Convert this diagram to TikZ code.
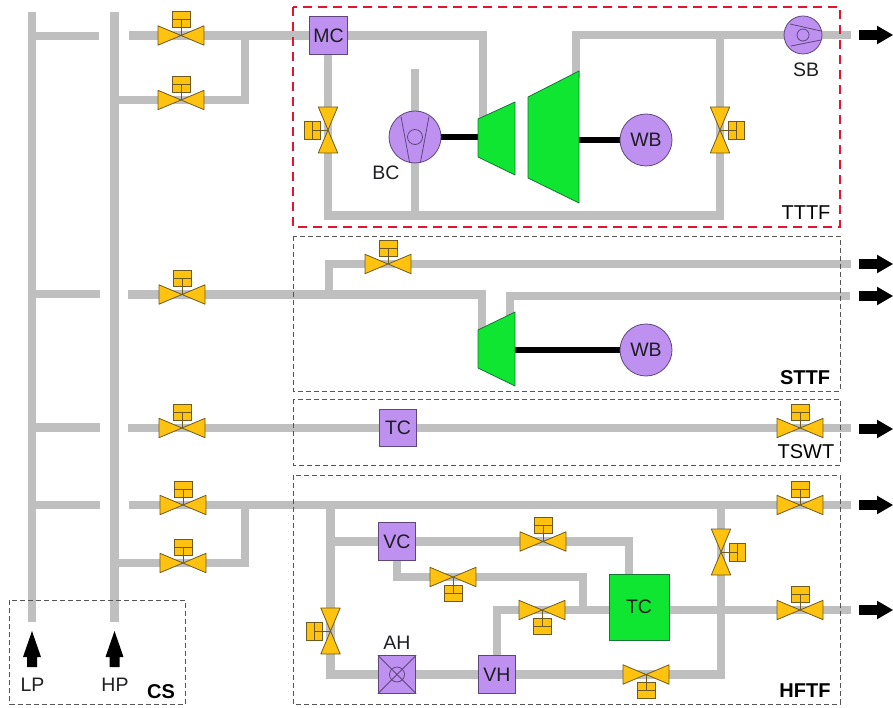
\documentclass[tikz,border=0pt]{standalone}
\usepackage{fontspec}
\setmainfont{Liberation Sans}
\pgfdeclarelayer{pipes}
\pgfdeclarelayer{frames}
\pgfsetlayers{pipes,frames,main}
\definecolor{pipegray}{RGB}{191,191,191}
\definecolor{valvey}{RGB}{255,194,14}
\definecolor{valveb}{RGB}{110,90,30}
\definecolor{purp}{RGB}{190,145,240}
\definecolor{purpb}{RGB}{95,70,125}
\definecolor{turb}{RGB}{15,230,50}
\definecolor{turbb}{RGB}{20,120,50}
\definecolor{framered}{RGB}{225,20,50}
\definecolor{framegray}{RGB}{85,85,85}
\definecolor{inktext}{RGB}{30,30,35}
\tikzset{
  pipe/.style={draw=pipegray,line width=8.2pt,line join=miter},
  shaft/.style={draw=black,line width=6pt},
  sqbox/.style={draw=purpb,fill=purp,line width=0.8pt,minimum size=37.5pt,inner sep=0pt,text=inktext,font=\fontsize{19.5}{20}\selectfont},
  wheel/.style={circle,draw=purpb,fill=purp,line width=0.8pt,inner sep=0pt,text=inktext,font=\fontsize{19.5}{20}\selectfont},
  hot/.style={draw=turbb,fill=turb,line width=0.8pt,line join=round},
  lab/.style={inner sep=0pt,text=inktext,font=\fontsize{19.5}{20}\selectfont},
  blab/.style={inner sep=0pt,text=black,font=\fontsize{20}{20}\selectfont\bfseries},
  zone/.style={draw=framegray,line width=0.9pt,dash pattern=on 5pt off 3pt},
  redzone/.style={draw=framered,line width=1.7pt,dash pattern=on 9pt off 6pt},
  inner/.style={draw=purpb,line width=0.8pt},
  valve/.pic={
    \draw[valveb,line width=0.8pt] (0,0) -- (0,-16);
    \draw[draw=valveb,fill=valvey,line width=0.8pt,line join=round] (-23,-9.7) -- (0,0) -- (-23,9.7) -- cycle;
    \draw[draw=valveb,fill=valvey,line width=0.8pt,line join=round] (23,-9.7) -- (0,0) -- (23,9.7) -- cycle;
    \draw[draw=valveb,fill=valvey,line width=0.8pt] (-9,-24) rectangle (9,-8);
    \draw[valveb,line width=0.8pt] (-9,-16) -- (9,-16) (0,-16) -- (0,-8);
  },
  arrowright/.pic={\fill[black] (0,-4.8) -- (18,-4.8) -- (18,-9.3) -- (34,0) -- (18,9.3) -- (18,4.8) -- (0,4.8) -- cycle;},
  arrowup/.pic={\fill[black] (-5,0) -- (-5,-10) -- (-9,-10) -- (0,-36) -- (9,-10) -- (5,-10) -- (5,0) -- cycle;}
}
\begin{document}
\begin{tikzpicture}[x=1pt,y=-1pt]
\useasboundingbox (0,0) rectangle (893,708);
% steam mains
\coordinate (lpt) at (32,12);
\coordinate (lpb) at (32,622);
\coordinate (hpt) at (114.5,12);
\coordinate (hpb) at (114.5,622);
% stubs
\coordinate (a1) at (32,36);   \coordinate (a1e) at (99,36);
\coordinate (a2) at (32,294);  \coordinate (a2e) at (100,294);
\coordinate (a3) at (32,427.5);\coordinate (a3e) at (100,427.5);
\coordinate (a4) at (32,505);  \coordinate (a4e) at (100,505);
\coordinate (b1) at (129,35.5);
\coordinate (b2) at (128,294.5);
\coordinate (b3) at (128,428);
\coordinate (b4) at (129,505);
\coordinate (h1) at (114.5,100);
\coordinate (h2) at (114.5,563);
\coordinate (up1) at (245,35.5);
\coordinate (up2) at (245,100);
\coordinate (up3) at (245,505);
\coordinate (up4) at (245,563);
% valves
\coordinate (v1) at (181,35.5);  \pic at (v1) {valve};
\coordinate (v2) at (181,100);   \pic at (v2) {valve};
\coordinate (v3) at (182,294.5); \pic at (v3) {valve};
\coordinate (v4) at (182,428);   \pic at (v4) {valve};
\coordinate (v5) at (183,505);   \pic at (v5) {valve};
\coordinate (v6) at (183,563);   \pic at (v6) {valve};
\coordinate (v7) at (328,130);   \pic[rotate=90] at (v7) {valve};
\coordinate (v8) at (720,130);   \pic[rotate=-90] at (v8) {valve};
\coordinate (v9) at (388,264);   \pic at (v9) {valve};
\coordinate (v10) at (800,428);  \pic at (v10) {valve};
\coordinate (v11) at (800,505);  \pic at (v11) {valve};
\coordinate (v12) at (330.5,631);\pic[rotate=90] at (v12) {valve};
\coordinate (v13) at (543,541.5);\pic at (v13) {valve};
\coordinate (v14) at (453,577);  \pic[rotate=180] at (v14) {valve};
\coordinate (v15) at (542,610);  \pic[rotate=180] at (v15) {valve};
\coordinate (v16) at (721,552);  \pic[rotate=-90] at (v16) {valve};
\coordinate (v17) at (800,610);  \pic at (v17) {valve};
\coordinate (v18) at (646,674.5);  \pic[rotate=180] at (v18) {valve};
% equipment
\node[sqbox] (mc) at (328.5,35.5) {MC};
\node[sqbox] (tc1) at (398,428) {TC};
\node[sqbox] (vc) at (397,541.5) {VC};
\node[sqbox] (ah) at (397,674.5) {};
\node[sqbox] (vh) at (497,674.5) {VH};
\node[draw=turbb,fill=turb,line width=0.8pt,minimum width=60pt,minimum height=66pt,inner sep=0pt,text=inktext,font=\fontsize{19.5}{20}\selectfont] (tc2) at (639,607) {TC};
\node[wheel,minimum size=52pt] (bc) at (415,137) {};
\node[wheel,minimum size=52pt] (wb1) at (646,140) {WB};
\node[wheel,minimum size=52pt] (wb2) at (646,350) {WB};
\node[wheel,minimum size=38pt] (sb) at (803,35) {};
% equipment details
\draw[inner] (401,116.5) -- (409.5,162) (429,116.5) -- (420.5,162);
\draw[inner] (415,137) circle (7.5);
\draw[inner] (790,24) -- (821,31) (791,46) -- (821,40);
\draw[inner] (803,35) circle (6);
\draw[inner] (ah.north west) -- (ah.south east) (ah.north east) -- (ah.south west);
\draw[inner] (ah.center) circle (7.5);
% turbines
\draw[hot] (478,119) -- (515,102) -- (515,175) -- (478,157) -- cycle;
\draw[hot] (528,97) -- (579,71) -- (579,203) -- (528,178) -- cycle;
\draw[hot] (478,330) -- (515,312) -- (515,386) -- (478,368) -- cycle;
\coordinate (t1l) at (478,137);
\coordinate (t2r) at (579,140);
\coordinate (t3r) at (515,350);
\coordinate (t1in) at (483,125);
\coordinate (t2out) at (576,78);
\coordinate (t3in) at (482,336);
\coordinate (t3out) at (510,318);
% other junctions
\coordinate (e1) at (851,35);
\coordinate (e2) at (851,264);
\coordinate (e3) at (850,296);
\coordinate (e4) at (851,428);
\coordinate (e5) at (851,505);
\coordinate (e6) at (851,610);
\coordinate (bct) at (415,69);
\coordinate (bot) at (415,215.5);
\coordinate (botl) at (328,215.5);
\coordinate (botr) at (720,215.5);
\coordinate (top) at (720,35);
\coordinate (tj) at (329,294.5);
\coordinate (tk) at (329,264);
\coordinate (hl) at (330.5,505);
\coordinate (hm) at (330.5,541.5);
\coordinate (hb) at (330.5,674.5);
\coordinate (hr) at (721,505);
\coordinate (hs) at (721,674.5);
\coordinate (w1) at (629,541.5);
\coordinate (w2) at (629,574);
\coordinate (w3) at (397,577);
\coordinate (w4) at (583,577);
\coordinate (w5) at (583,610);
\coordinate (w6) at (497,610);
% labels
\node[lab] (lsb) at (806,70) {SB};
\node[lab] (lbc) at (386,173) {BC};
\node[lab] (lah) at (397,643) {AH};
\node[lab] (llp) at (32.5,685) {LP};
\node[lab] (lhp) at (115,685) {HP};
\node[blab] (lcs) at (161,692) {CS};
\node[lab,font=\fontsize{20}{20}\selectfont,text=black] (ltt) at (806,213) {TTTF};
\node[blab] (lst) at (805,378) {STTF};
\node[lab,font=\fontsize{20}{20}\selectfont,text=black] (lts) at (806,452) {TSWT};
\node[blab] (lhf) at (805,691) {HFTF};
% arrows
\pic at (859,35) {arrowright};
\pic at (859,264) {arrowright};
\pic at (859,296) {arrowright};
\pic at (859,429) {arrowright};
\pic at (859,505) {arrowright};
\pic at (859,610) {arrowright};
\pic at (32,667) {arrowup};
\pic at (114.5,667) {arrowup};
\begin{pgfonlayer}{pipes}
\draw[pipe] (lpt) -- (lpb);
\draw[pipe] (hpt) -- (hpb);
\draw[pipe] (a1) -- (a1e);
\draw[pipe] (a2) -- (a2e);
\draw[pipe] (a3) -- (a3e);
\draw[pipe] (a4) -- (a4e);
\draw[pipe] (b1) -- (v1) -- (mc);
\draw[pipe] (h1) -- (v2) -- (up2) -- (up1);
\draw[pipe] (mc) -| (t1in);
\draw[pipe] (v7 |- mc) -- (v7) -- (botl) -- (botr) -- (v8) -- (top);
\draw[pipe] (bct) -- (bot);
\draw[pipe] (t2out) |- (e1);
\draw[shaft] (bc) -- (t1l);
\draw[shaft] (t2r) -- (wb1);
\draw[shaft] (t3r) -- (wb2);
\draw[pipe] (b2) -- (v3) -- (tj) -| (t3in);
\draw[pipe] (tj) -- (tk) -- (v9) -- (e2);
\draw[pipe] (t3out) |- (e3);
\draw[pipe] (b3) -- (v4) -- (tc1) -- (v10) -- (e4);
\draw[pipe] (b4) -- (v5) -- (hl) -- (hr) -- (v11) -- (e5);
\draw[pipe] (h2) -- (v6) -- (up4) -- (up3);
\draw[pipe] (hl) -- (v12) -- (hb) -- (ah) -- (vh) -- (v18) -- (hs) -- (v16) -- (hr);
\draw[pipe] (hm) -- (vc) -- (v13) -- (w1) -- (w2);
\draw[pipe] (vc) -- (w3) -- (v14) -- (w4) -- (w5);
\draw[pipe] (vh) -- (w6) -- (v15) -- (v15 -| tc2.west);
\draw[pipe] (v17 -| tc2.east) -- (v17) -- (e6);
\end{pgfonlayer}
\begin{pgfonlayer}{frames}
\draw[redzone] (293,7) rectangle (840,227);
\draw[zone] (293,236) rectangle (840,391);
\draw[zone] (293,399) rectangle (840,465);
\draw[zone] (293,475) rectangle (840,704);
\draw[zone] (9.5,600) rectangle (185,704);
\end{pgfonlayer}
\end{tikzpicture}
\end{document}
